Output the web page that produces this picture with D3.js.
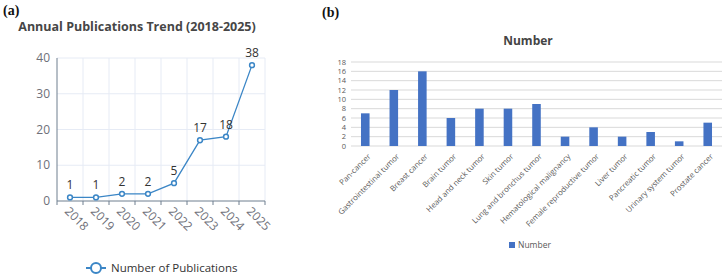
<!DOCTYPE html>
<html lang="en">
<head>
  <meta charset="UTF-8">
  <title>Publications</title>
  <script src="https://d3js.org/d3.v7.min.js"></script>
  <style>
    body { margin: 0; background: #fff; }
    svg { display: block; }
  </style>
</head>
<body>
  <div id="chart"></div>
  <script>
    // left chart: yearly counts
    const years = ["2018", "2019", "2020", "2021", "2022", "2023", "2024", "2025"];
    const pubCounts = [1, 1, 2, 2, 5, 17, 18, 38];
    const yTicksA = [0, 10, 20, 30, 40];

    // right chart: counts by tumor type
    const tumorTypes = ["Pan-cancer", "Gastrointestinal tumor", "Breast cancer", "Brain tumor",
      "Head and neck tumor", "Skin tumor", "Lung and bronchus tumor", "Hematological malignancy",
      "Female reproductive tumor", "Liver tumor", "Pancreatic tumor", "Urinary system tumor", "Prostate cancer"];
    const tumorCounts = [7, 12, 16, 6, 8, 8, 9, 2, 4, 2, 3, 1, 5];
    const yTicksB = [0, 2, 4, 6, 8, 10, 12, 14, 16, 18];

    const width = 727, height = 276;
    const svg = d3.select("#chart").append("svg")
      .attr("width", width).attr("height", height);

    const sans = "'Open Sans', 'Noto Sans', sans-serif";
    const serif = "'Liberation Serif', 'DejaVu Serif', 'Times New Roman', serif";

    // ---------- (a) line chart ----------
    svg.append("text").attr("x", 3).attr("y", 15)
      .attr("font-family", serif).attr("font-weight", "bold")
      .attr("font-size", 14).attr("fill", "#111").text("(a)");

    svg.append("text").attr("x", 137).attr("y", 31)
      .attr("text-anchor", "middle").attr("font-family", sans)
      .attr("font-weight", "bold").attr("font-size", 12.5).attr("fill", "#464646")
      .text("Annual Publications Trend (2018-2025)");

    const xA = d3.scaleBand().domain(years).range([57, 265]);
    const yA = d3.scaleLinear().domain([0, 40]).range([201, 58]);

    const gA = svg.append("g");
    // grid
    gA.selectAll(".hgrid").data(yTicksA.filter(d => d > 0)).enter().append("line")
      .attr("x1", 57).attr("x2", 265)
      .attr("y1", d => yA(d)).attr("y2", d => yA(d))
      .attr("stroke", "#e6ebf5").attr("stroke-width", 1);
    gA.selectAll(".vgrid").data(years.slice(1).concat(["end"])).enter().append("line")
      .attr("x1", (d, i) => i < years.length - 1 ? xA(d) : xA.range()[1])
      .attr("x2", (d, i) => i < years.length - 1 ? xA(d) : xA.range()[1])
      .attr("y1", yA(40)).attr("y2", yA(0))
      .attr("stroke", "#e6ebf5").attr("stroke-width", 1);

    // axes
    gA.append("line").attr("x1", 57).attr("x2", 57).attr("y1", yA(40)).attr("y2", yA(0))
      .attr("stroke", "#6e7f8f").attr("stroke-width", 1);
    gA.append("line").attr("x1", 57).attr("x2", 265).attr("y1", yA(0)).attr("y2", yA(0))
      .attr("stroke", "#6e7f8f").attr("stroke-width", 1);
    gA.selectAll(".xtick").data(years.concat(["end"])).enter().append("line")
      .attr("x1", (d, i) => i < years.length ? xA(d) : xA.range()[1])
      .attr("x2", (d, i) => i < years.length ? xA(d) : xA.range()[1])
      .attr("y1", yA(0)).attr("y2", yA(0) + 4)
      .attr("stroke", "#6e7f8f");

    gA.selectAll(".ylab").data(yTicksA).enter().append("text")
      .attr("x", 50).attr("y", d => yA(d)).attr("dy", "0.35em")
      .attr("text-anchor", "end").attr("font-family", sans).attr("font-size", 12)
      .attr("fill", "#6e7079").text(d => d);

    gA.selectAll(".xlab").data(years).enter().append("text")
      .attr("transform", d => `translate(${xA(d) + xA.bandwidth() / 2 - 3},${yA(0) + 8}) rotate(45)`)
      .attr("dy", "0.35em").attr("font-family", sans).attr("font-size", 12)
      .attr("fill", "#6e7079").text(d => d);

    const lineColor = "#3b86c6";
    const ptsA = years.map((y, i) => ({ year: y, v: pubCounts[i] }));
    const line = d3.line()
      .x(d => xA(d.year) + xA.bandwidth() / 2)
      .y(d => yA(d.v));
    gA.append("path").datum(ptsA).attr("d", line)
      .attr("fill", "none").attr("stroke", lineColor).attr("stroke-width", 1.3);
    gA.selectAll(".pt").data(ptsA).enter().append("circle")
      .attr("cx", d => xA(d.year) + xA.bandwidth() / 2).attr("cy", d => yA(d.v))
      .attr("r", 2.4).attr("fill", "#fff").attr("stroke", lineColor).attr("stroke-width", 1.5);
    gA.selectAll(".vlab").data(ptsA).enter().append("text")
      .attr("x", d => xA(d.year) + xA.bandwidth() / 2).attr("y", d => yA(d.v) - 8)
      .attr("text-anchor", "middle").attr("font-family", sans).attr("font-size", 12)
      .attr("fill", "#333").text(d => d.v);

    // legend
    const lg = svg.append("g");
    lg.append("line").attr("x1", 86).attr("x2", 106).attr("y1", 268).attr("y2", 268)
      .attr("stroke", lineColor).attr("stroke-width", 2);
    lg.append("circle").attr("cx", 96).attr("cy", 268).attr("r", 5)
      .attr("fill", "#fff").attr("stroke", lineColor).attr("stroke-width", 2);
    lg.append("text").attr("x", 111).attr("y", 268).attr("dy", "0.35em")
      .attr("font-family", sans).attr("font-size", 11.5).attr("fill", "#333")
      .text("Number of Publications");

    // ---------- (b) bar chart ----------
    svg.append("text").attr("x", 322).attr("y", 17)
      .attr("font-family", serif).attr("font-weight", "bold")
      .attr("font-size", 14).attr("fill", "#111").text("(b)");

    svg.append("text").attr("x", 528).attr("y", 45)
      .attr("text-anchor", "middle").attr("font-family", sans)
      .attr("font-weight", "bold").attr("font-size", 12).attr("fill", "#444")
      .text("Number");

    const xB = d3.scaleBand().domain(tumorTypes).range([351, 722]).paddingInner(0.7).paddingOuter(0.35);
    const yB = d3.scaleLinear().domain([0, 18]).range([146, 62]);

    const gB = svg.append("g");
    gB.selectAll(".grid").data(yTicksB).enter().append("line")
      .attr("x1", 351).attr("x2", 722)
      .attr("y1", d => yB(d)).attr("y2", d => yB(d))
      .attr("stroke", "#d9d9d9").attr("stroke-width", 1);
    gB.selectAll(".ylab").data(yTicksB).enter().append("text")
      .attr("x", 346).attr("y", d => yB(d)).attr("dy", "0.35em")
      .attr("text-anchor", "end").attr("font-family", sans).attr("font-size", 7.5)
      .attr("fill", "#595959").text(d => d);

    gB.selectAll(".bar").data(tumorTypes).enter().append("rect")
      .attr("x", d => xB(d)).attr("width", xB.bandwidth())
      .attr("y", (d, i) => yB(tumorCounts[i]))
      .attr("height", (d, i) => yB(0) - yB(tumorCounts[i]))
      .attr("fill", "#4472c4");

    gB.selectAll(".xlab").data(tumorTypes).enter().append("text")
      .attr("transform", d => `translate(${xB(d) + xB.bandwidth() / 2 + 4},${yB(0) + 9}) rotate(-45)`)
      .attr("text-anchor", "end").attr("dy", "0.35em")
      .attr("font-family", sans).attr("font-size", 7.8)
      .attr("fill", "#595959").text(d => d);

    svg.append("rect").attr("x", 509).attr("y", 242).attr("width", 6).attr("height", 6)
      .attr("fill", "#4472c4");
    svg.append("text").attr("x", 518).attr("y", 245).attr("dy", "0.35em")
      .attr("font-family", sans).attr("font-size", 8.5).attr("fill", "#595959")
      .text("Number");
  </script>
</body>
</html>
